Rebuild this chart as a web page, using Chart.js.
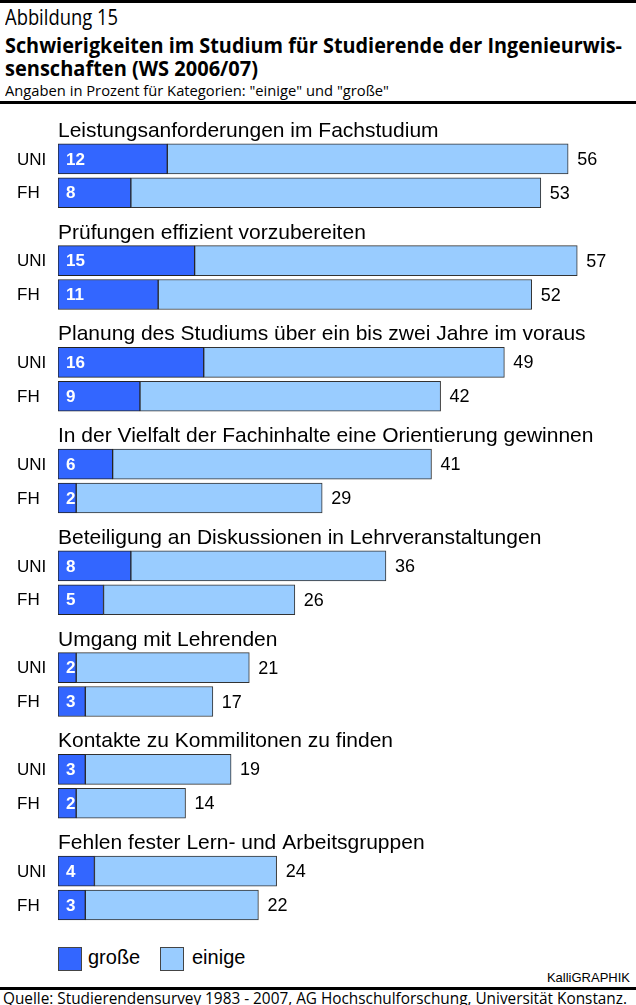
<!DOCTYPE html>
<html>
<head>
<meta charset="utf-8">
<script src="https://cdn.jsdelivr.net/npm/chart.js@4"></script>
<style>
  body { margin: 0; width: 636px; height: 1005px; position: relative; overflow: hidden; background: #fff; font-family: "Liberation Sans", Arial, sans-serif; }
  .hd { position: absolute; left: 5px; white-space: nowrap; font-family: "Open Sans", sans-serif; color: #000; transform-origin: 0 0; }
  .rule { position: absolute; left: 0; width: 636px; background: #000; }
  #chartBox { position: absolute; left: 0; top: 104px; width: 636px; height: 822px; }
  .lg-box { position: absolute; top: 947px; width: 22px; height: 22px; border: 1px solid #444; }
  .lg-txt { position: absolute; top: 945px; font-size: 20px; line-height: 24px; }
</style>
</head>
<body>
<div class="rule" style="top:0;height:3px"></div>
<div class="hd" data-w="113" style="top:3px;font-size:21px;line-height:28px">Abbildung 15</div>
<div class="hd" data-w="617" style="top:30px;font-size:22px;line-height:28px;font-weight:bold">Schwierigkeiten im Studium für Studierende der Ingenieurwis-</div>
<div class="hd" data-w="253" style="top:53px;font-size:22px;line-height:28px;font-weight:bold">senschaften (WS 2006/07)</div>
<div class="hd" data-w="384" style="top:80px;font-size:15px;line-height:20px">Angaben in Prozent für Kategorien: "einige" und "große"</div>
<div class="rule" style="top:101px;height:3px"></div>

<div id="chartBox"><canvas id="myChart"></canvas></div>

<div class="lg-box" style="left:58px;background:#3366ff"></div>
<div class="lg-txt" style="left:88px">große</div>
<div class="lg-box" style="left:160px;background:#99ccff"></div>
<div class="lg-txt" style="left:192px">einige</div>
<div style="position:absolute;right:6px;top:970px;font-size:13px;line-height:16px">KalliGRAPHIK</div>
<div class="rule" style="top:987px;height:3px"></div>
<div class="hd" data-w="624" style="left:3px;top:988px;font-size:16px;line-height:20px">Quelle: Studierendensurvey 1983 - 2007, AG Hochschulforschung, Universität Konstanz.</div>

<script>
// squeeze the header lines to the narrow face of the original
document.querySelectorAll('.hd').forEach(el => {
  const target = +el.dataset.w;
  const w = el.getBoundingClientRect().width;
  el.style.transform = 'scaleX(' + (target / w) + ')';
});

const groupTitles = [
  'Leistungsanforderungen im Fachstudium',
  'Prüfungen effizient vorzubereiten',
  'Planung des Studiums über ein bis zwei Jahre im voraus',
  'In der Vielfalt der Fachinhalte eine Orientierung gewinnen',
  'Beteiligung an Diskussionen in Lehrveranstaltungen',
  'Umgang mit Lehrenden',
  'Kontakte zu Kommilitonen zu finden',
  'Fehlen fester Lern- und Arbeitsgruppen'
];
const rowLabels = ['UNI', 'FH'];
const uniGrosse = [12, 15, 16, 6, 8, 2, 3, 4];
const uniTotal = [56, 57, 49, 41, 36, 21, 19, 24];
const fhGrosse = [8, 11, 9, 2, 5, 3, 2, 3];
const fhTotal = [53, 52, 42, 29, 26, 17, 14, 22];

// each group gets three slots: title line, UNI, FH
const labels = [];
const grosseData = [];
const einigeData = [];
const totals = [];
groupTitles.forEach((t, i) => {
  labels.push('', rowLabels[0], rowLabels[1]);
  grosseData.push(null, uniGrosse[i], fhGrosse[i]);
  einigeData.push(null, uniTotal[i] - uniGrosse[i], fhTotal[i] - fhGrosse[i]);
  totals.push(null, uniTotal[i], fhTotal[i]);
});

const FONT = '"Liberation Sans", Arial, sans-serif';

const textPlugin = {
  id: 'barTexts',
  afterDatasetsDraw(chart) {
    const ctx = chart.ctx;
    const xs = chart.scales.x;
    const ys = chart.scales.y;
    const x0 = xs.getPixelForValue(0);
    ctx.save();
    ctx.textAlign = 'left';
    ctx.textBaseline = 'alphabetic';
    ctx.fillStyle = '#000';
    ctx.font = '21px ' + FONT;
    groupTitles.forEach((t, i) => {
      const yu = ys.getPixelForValue(3 * i + 1);
      ctx.fillText(t, x0, yu - 22);
    });
    ctx.textBaseline = 'middle';
    for (let k = 0; k < labels.length; k++) {
      if (totals[k] == null) continue;
      const yc = ys.getPixelForValue(k);
      // row label (UNI / FH)
      ctx.font = '17px ' + FONT;
      ctx.fillStyle = '#000';
      ctx.fillText(labels[k], 17, yc + 1);
      // value of "große" inside the dark segment
      ctx.font = 'bold 17px ' + FONT;
      ctx.fillStyle = '#fff';
      ctx.fillText(grosseData[k], x0 + 8, yc + 1);
      // total at the bar end
      ctx.font = '18px ' + FONT;
      ctx.fillStyle = '#000';
      ctx.fillText(totals[k], xs.getPixelForValue(totals[k]) + 9, yc + 1);
    }
    ctx.restore();
  }
};

const ctx = document.getElementById('myChart');

new Chart(ctx, {
  type: 'bar',
  data: {
    labels: labels,
    datasets: [
      {
        label: 'große',
        data: grosseData,
        backgroundColor: '#3366ff',
        borderColor: '#222',
        borderWidth: 1,
        borderSkipped: false,
        barThickness: 30
      },
      {
        label: 'einige',
        data: einigeData,
        backgroundColor: '#99ccff',
        borderColor: '#333',
        borderWidth: 1,
        borderSkipped: false,
        barThickness: 30
      }
    ]
  },
  options: {
    indexAxis: 'y',
    responsive: true,
    maintainAspectRatio: false,
    animation: false,
    layout: { padding: { left: 58, top: 4, bottom: 4, right: 0 } },
    plugins: {
      legend: { display: false },
      tooltip: { enabled: false }
    },
    scales: {
      x: {
        stacked: true,
        display: false,
        min: 0,
        max: 63.45
      },
      y: {
        stacked: true,
        display: false
      }
    }
  },
  plugins: [textPlugin]
});
</script>
</body>
</html>
